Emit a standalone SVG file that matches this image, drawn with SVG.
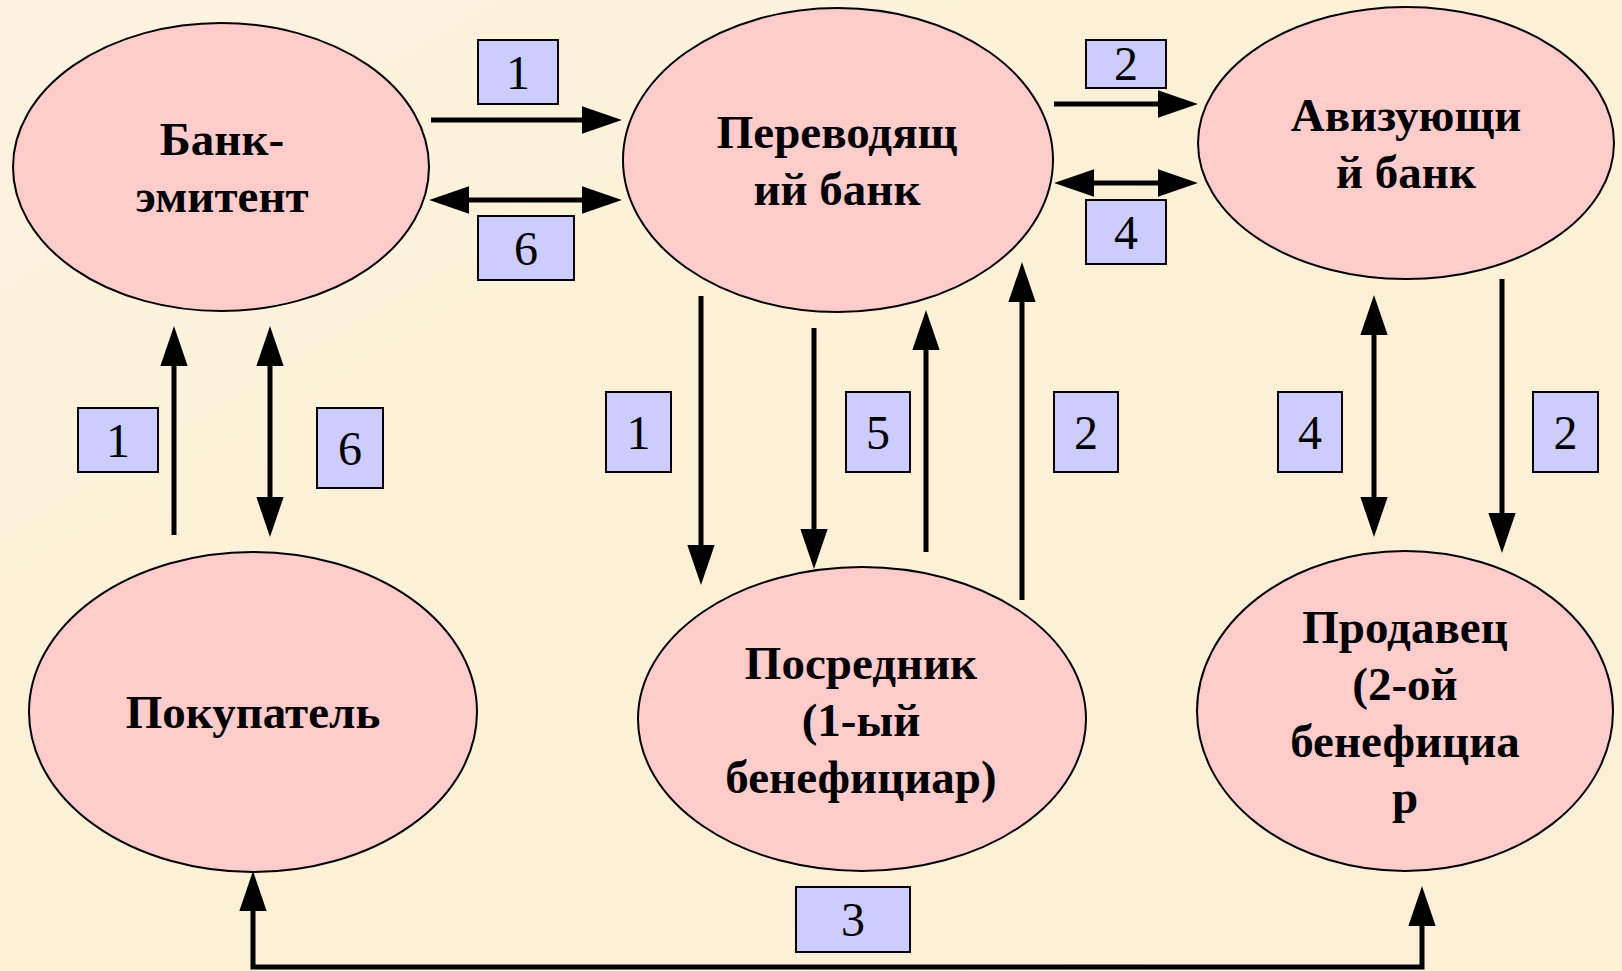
<svg xmlns="http://www.w3.org/2000/svg" width="1622" height="971" viewBox="0 0 1622 971">
<defs>
<style>
.node ellipse{fill:#ffcccc;stroke:#000;stroke-width:2}
.node text{font-weight:bold;font-size:47px;text-anchor:middle;fill:#000}
.lbl rect{fill:#ccccff;stroke:#000;stroke-width:2}
.lbl text{font-size:48px;font-weight:normal;text-anchor:middle;fill:#000}
.conn line,.conn path{stroke:#000;stroke-width:5;fill:none}
.one{marker-end:url(#ah)}
.two{marker-start:url(#ah);marker-end:url(#ah)}
</style>
<marker id="ah" markerUnits="userSpaceOnUse" markerWidth="40" markerHeight="28" viewBox="0 0 38 26" refX="2" refY="13" orient="auto-start-reverse">
<path d="M0,0 L38,13 L0,26 z" fill="#000"/>
</marker>
<linearGradient id="bg" x1="0" y1="0" x2="1" y2="1">
<stop offset="0" stop-color="#fdf3df"/>
<stop offset="0.5" stop-color="#fcf0d6"/>
<stop offset="1" stop-color="#fcefd8"/>
</linearGradient>
</defs>
<rect width="1622" height="971" fill="url(#bg)"/>

<g id="bank-emitent" class="node" font-family="Liberation Serif">
<ellipse cx="221" cy="167" rx="208" ry="144"/>
<text x="222" y="155">Банк-</text>
<text x="222" y="212">эмитент</text>
</g>
<g id="perevodyashchiy-bank" class="node" font-family="Liberation Serif">
<ellipse cx="838" cy="160" rx="215" ry="152"/>
<text x="837" y="148">Переводящ</text>
<text x="837" y="205">ий банк</text>
</g>
<g id="avizuyushchiy-bank" class="node" font-family="Liberation Serif">
<ellipse cx="1406" cy="143" rx="208" ry="136"/>
<text x="1406" y="131">Авизующи</text>
<text x="1406" y="188">й банк</text>
</g>
<g id="pokupatel" class="node" font-family="Liberation Serif">
<ellipse cx="253" cy="712" rx="224" ry="160"/>
<text x="253" y="728">Покупатель</text>
</g>
<g id="posrednik" class="node" font-family="Liberation Serif">
<ellipse cx="862" cy="719" rx="224" ry="152"/>
<text x="861" y="679">Посредник</text>
<text x="861" y="736">(1-ый</text>
<text x="861" y="793">бенефициар)</text>
</g>
<g id="prodavets" class="node" font-family="Liberation Serif">
<ellipse cx="1405" cy="711" rx="208" ry="160"/>
<text x="1405" y="643">Продавец</text>
<text x="1405" y="700">(2-ой</text>
<text x="1405" y="757">бенефициа</text>
<text x="1405" y="813">р</text>
</g>

<g id="connectors" class="conn">
<line class="one" x1="431" y1="120" x2="584" y2="120"/>
<line class="two" x1="467" y1="200" x2="584" y2="200"/>
<line class="one" x1="1054" y1="104" x2="1160" y2="104"/>
<line class="two" x1="1092" y1="183" x2="1160" y2="183"/>
<line class="one" x1="174" y1="535" x2="174" y2="364"/>
<line class="two" x1="270" y1="364" x2="270" y2="499"/>
<line class="one" x1="701" y1="296" x2="701" y2="547"/>
<line class="one" x1="814" y1="328" x2="814" y2="531"/>
<line class="one" x1="926" y1="552" x2="926" y2="348"/>
<line class="one" x1="1022" y1="600" x2="1022" y2="300"/>
<line class="two" x1="1374" y1="333" x2="1374" y2="499"/>
<line class="one" x1="1502" y1="279" x2="1502" y2="515"/>
<path class="two" d="M253,909 L253,967 L1422,967 L1422,924"/>
</g>

<g id="labels" class="lbl" font-family="Liberation Serif">
<g id="l1a"><rect x="478" y="40" width="80" height="64"/><text x="518" y="89" font-family="Liberation Serif">1</text></g>
<g id="l6a"><rect x="478" y="216" width="96" height="64"/><text x="526" y="265" font-family="Liberation Serif">6</text></g>
<g id="l2a"><rect x="1086" y="40" width="80" height="48"/><text x="1126" y="80" font-family="Liberation Serif">2</text></g>
<g id="l4a"><rect x="1086" y="200" width="80" height="64"/><text x="1126" y="249" font-family="Liberation Serif">4</text></g>
<g id="l1b"><rect x="78" y="408" width="80" height="64"/><text x="118" y="457" font-family="Liberation Serif">1</text></g>
<g id="l6b"><rect x="317" y="408" width="66" height="80"/><text x="350" y="465" font-family="Liberation Serif">6</text></g>
<g id="l1c"><rect x="606" y="392" width="65" height="80"/><text x="638.5" y="449" font-family="Liberation Serif">1</text></g>
<g id="l5"><rect x="846" y="392" width="64" height="80"/><text x="878" y="449" font-family="Liberation Serif">5</text></g>
<g id="l2b"><rect x="1054" y="392" width="64" height="80"/><text x="1086" y="449" font-family="Liberation Serif">2</text></g>
<g id="l4b"><rect x="1278" y="392" width="64" height="80"/><text x="1310" y="449" font-family="Liberation Serif">4</text></g>
<g id="l2c"><rect x="1533" y="392" width="65" height="80"/><text x="1565.5" y="449" font-family="Liberation Serif">2</text></g>
<g id="l3"><rect x="796" y="887" width="114" height="65"/><text x="853" y="936" font-family="Liberation Serif">3</text></g>
</g>
</svg>
